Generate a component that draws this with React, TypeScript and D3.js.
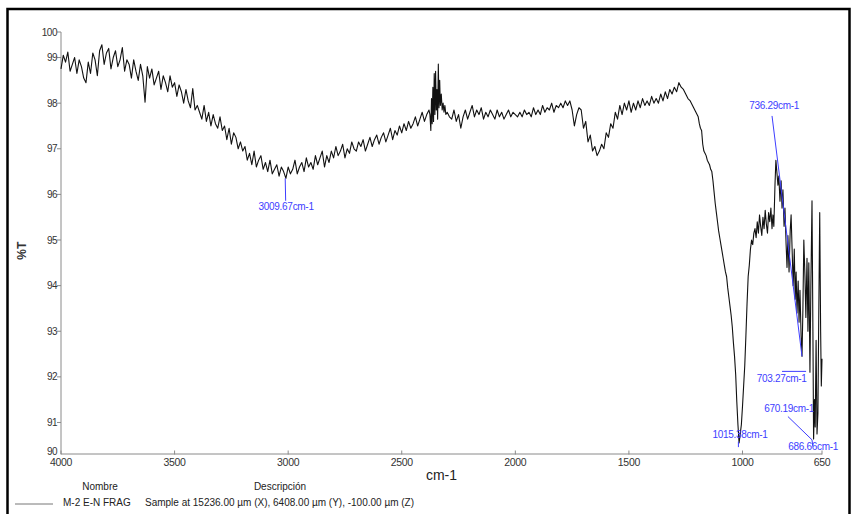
import React from "react";
import * as d3 from "d3";

// ---------- DATA ----------
const X_DOMAIN = [4000, 650];
const Y_DOMAIN = [90.32, 99.56];
const X_TICKS = [4000, 3500, 3000, 2500, 2000, 1500, 1000, 650];
const Y_TICKS = [91, 92, 93, 94, 95, 96, 97, 98, 99];
const Y_END_LABELS = ["90", "100"];
const X_LABEL = "cm-1";
const Y_LABEL = "%T";

// 4000 -> 2380 cm-1, every 10 cm-1
const SEG_A_START = 4000;
const SEG_A = [
  98.75, 99.05, 98.90, 99.12, 98.70, 98.85, 99.00, 98.65, 98.95, 98.80,
  98.55, 98.45, 98.90, 98.65, 99.10, 98.95, 98.60, 99.15, 99.28, 98.85,
  99.10, 99.20, 98.75, 99.00, 99.15, 98.80, 98.95, 99.22, 98.70, 98.95,
  98.85, 98.55, 98.95, 98.70, 98.50, 98.85, 98.60, 98.02, 98.80, 98.55,
  98.75, 98.40, 98.55, 98.70, 98.30, 98.60, 98.45, 98.25, 98.60, 98.35,
  98.45, 98.15, 98.40, 98.25, 98.00, 98.30, 98.05, 97.90, 98.32, 97.85,
  97.95, 97.80, 97.65, 97.95, 97.60, 97.80, 97.50, 97.75, 97.55, 97.45,
  97.70, 97.40, 97.50, 97.20, 97.45, 97.10, 97.35, 97.25, 97.00, 97.15,
  96.95, 97.05, 96.75, 96.90, 96.65, 96.95, 96.60, 96.75, 96.85, 96.55,
  96.70, 96.50, 96.75, 96.45, 96.55, 96.65, 96.40, 96.60, 96.50, 96.35,
  96.60, 96.45, 96.55, 96.75, 96.45, 96.60, 96.70, 96.50, 96.80, 96.60,
  96.70, 96.55, 96.85, 96.65, 96.80, 96.95, 96.60, 96.85, 96.70, 96.95,
  96.80, 97.05, 96.85, 96.95, 97.10, 96.80, 97.00, 96.90, 97.15, 97.00,
  96.95, 97.15, 97.05, 97.20, 96.95, 97.10, 97.25, 97.05, 97.20, 97.30,
  97.10, 97.25, 97.35, 97.15, 97.30, 97.45, 97.20, 97.40, 97.30, 97.50,
  97.35, 97.55, 97.40, 97.60, 97.45, 97.55, 97.70, 97.50, 97.65, 97.80,
  97.60, 97.75, 97.85,
];

// CO2 region, explicit [cm-1, %T]
const SEG_B: [number, number][] = [
  [2376, 97.75], [2372, 97.40], [2369, 98.10], [2366, 97.55], [2363, 98.35],
  [2360, 97.60], [2357, 98.65], [2354, 97.75], [2351, 98.70], [2348, 97.85],
  [2345, 98.30], [2342, 97.65], [2339, 98.86], [2336, 97.90], [2333, 98.50],
  [2330, 97.95], [2326, 98.20], [2322, 97.85], [2318, 98.00], [2314, 97.80],
  [2310, 97.95], [2306, 97.75],
];

// 2300 -> 1200 cm-1, every 10 cm-1
const SEG_C_START = 2300;
const SEG_C = [
  97.80, 97.70, 97.65, 97.85, 97.60, 97.75, 97.45, 97.70, 97.85, 97.65,
  97.80, 97.95, 97.70, 97.85, 97.75, 97.90, 97.65, 97.80, 97.70, 97.85,
  97.75, 97.65, 97.85, 97.70, 97.80, 97.65, 97.75, 97.85, 97.70, 97.80,
  97.75, 97.70, 97.80, 97.70, 97.85, 97.75, 97.80, 97.70, 97.90, 97.75,
  97.85, 97.75, 97.95, 97.80, 97.90, 97.85, 98.00, 97.80, 97.95, 97.90,
  98.00, 97.90, 98.05, 97.95, 98.05, 97.85, 97.50, 97.75, 97.90, 97.85,
  97.45, 97.60, 97.15, 97.30, 96.95, 97.05, 96.85, 96.95, 97.10, 97.00,
  97.35, 97.25, 97.55, 97.45, 97.80, 97.65, 97.95, 97.75, 98.00, 97.85,
  98.05, 97.80, 98.00, 97.85, 98.05, 97.90, 98.10, 97.95, 98.05, 97.95,
  98.15, 98.00, 98.10, 98.00, 98.20, 98.05, 98.25, 98.10, 98.30, 98.20,
  98.35, 98.25, 98.45, 98.35, 98.30, 98.20, 98.10, 98.05, 97.95, 97.85,
  97.75,
];

// 1195 -> 650 cm-1, explicit [cm-1, %T]
const SEG_D: [number, number][] = [
  [1195, 97.70], [1190, 97.55], [1185, 97.45], [1180, 97.40], [1175, 97.10],
  [1170, 96.95], [1165, 96.90], [1160, 96.85], [1155, 96.75], [1150, 96.70],
  [1145, 96.65], [1140, 96.55], [1135, 96.50], [1130, 96.30], [1125, 96.05],
  [1120, 95.80], [1115, 95.60], [1110, 95.40], [1105, 95.20], [1100, 95.05],
  [1095, 94.90], [1090, 94.75], [1085, 94.60], [1080, 94.45], [1075, 94.30],
  [1070, 94.20], [1065, 93.95], [1060, 93.75], [1055, 93.55], [1050, 93.35],
  [1045, 93.10], [1040, 92.75], [1035, 92.45], [1030, 92.05], [1025, 91.45],
  [1020, 90.95], [1015, 90.55], [1010, 90.75], [1005, 90.95], [1000, 91.35],
  [995, 91.80], [990, 92.25], [985, 92.90], [980, 93.60], [975, 94.20],
  [970, 94.45], [965, 94.80], [960, 95.00], [955, 94.90], [950, 95.15],
  [945, 95.25], [940, 95.05], [935, 95.40], [930, 95.15], [925, 95.55],
  [920, 95.30], [915, 95.10], [910, 95.50], [905, 95.25], [900, 95.65],
  [895, 95.35], [890, 95.15], [885, 95.60], [880, 95.40], [875, 95.70],
  [870, 95.25], [866, 95.55], [862, 95.30], [857, 96.20], [853, 96.75],
  [848, 96.45], [844, 96.20], [840, 96.40], [835, 95.85], [830, 96.30],
  [826, 95.70], [822, 96.10], [817, 95.30], [813, 95.70], [808, 94.90],
  [804, 94.40], [800, 95.10], [795, 94.30], [790, 95.20], [786, 95.55],
  [781, 94.70], [777, 94.00], [772, 94.80], [768, 93.70], [764, 94.30],
  [760, 93.40], [755, 94.10], [751, 93.20], [747, 93.90], [742, 92.90],
  [738, 92.45], [734, 93.50], [730, 95.00], [725, 94.20], [721, 93.30],
  [716, 94.60], [712, 93.00], [708, 94.50], [703, 92.10], [699, 94.00],
  [694, 95.86], [690, 93.00], [687, 90.64], [683, 91.50], [680, 90.90],
  [676, 92.80], [672, 90.75], [668, 91.20], [664, 93.50], [660, 95.60],
  [656, 93.00], [653, 91.80], [650, 92.40],
];

// Peak annotations (data units): label anchor + leader line
const PEAK_LABELS = ["3009.67cm-1", "736.29cm-1", "703.27cm-1", "1015.38cm-1", "670.19cm-1", "686.66cm-1"];
const PEAK_TEXT_POS: [number, number][] = [
  [3009, 95.65], [861, 97.88], [828, 91.89], [1011, 90.65], [795, 91.23], [689, 90.39],
];
const PEAK_LEADERS: [number, number][][] = [
  [[3013, 96.35], [3011, 95.86]],
  [[870, 97.72], [738, 92.45]],
  [[826, 92.12], [720, 92.12]],
  [[1018, 90.58], [1018, 90.46]],
  [[800, 91.13], [694, 90.62]],
  [[694, 90.62], [691, 90.49]],
];

const LEGEND_HEADERS = ["Nombre", "Descripción"];
const LEGEND_NAME = "M-2 E-N FRAG";
const LEGEND_DESC = "Sample at 15236.00 µm (X), 6408.00 µm (Y), -100.00 µm (Z)";

// ---------- CHART ----------
export default function App() {
  const W = 853, H = 514;
  const left = 61, right = 822, top = 32, bottom = 453.5;
  const x = d3.scaleLinear().domain(X_DOMAIN).range([left, right]);
  const y = d3.scaleLinear().domain(Y_DOMAIN).range([bottom, top]);

  const pts: [number, number][] = [];
  SEG_A.forEach((v, i) => pts.push([SEG_A_START - i * 10, v]));
  SEG_B.forEach((p) => pts.push(p));
  SEG_C.forEach((v, i) => pts.push([SEG_C_START - i * 10, v]));
  SEG_D.forEach((p) => pts.push(p));
  pts.sort((a, b) => b[0] - a[0]);

  const line = d3.line<[number, number]>().x((d) => x(d[0])).y((d) => y(d[1]));
  const font = "'Liberation Sans', Arial, sans-serif";
  const axisColor = "#8a8a8a";
  const tickText = "#333";
  const blue = "#3d3dff";

  return (
    <svg width={W} height={H} style={{ position: "absolute", left: 0, top: 0, display: "block" }} fontFamily={font}>
      <rect x={0} y={0} width={W} height={H} fill="#fff" />
      {/* frame */}
      <rect x={7.5} y={9} width={842} height={520} fill="none" stroke="#000" strokeWidth={2.5} />

      {/* axes */}
      <line x1={left} x2={left} y1={top} y2={bottom + 0.5} stroke={axisColor} strokeWidth={1} />
      <line x1={left} x2={right} y1={bottom + 0.5} y2={bottom + 0.5} stroke={axisColor} strokeWidth={1} />

      {Y_TICKS.map((t) => (
        <g key={t}>
          <line x1={left - 4} x2={left} y1={y(t)} y2={y(t)} stroke={axisColor} />
          <text x={left - 4} y={y(t) + 3.5} fontSize={10} fill={tickText} textAnchor="end" letterSpacing={-0.5}>{t}</text>
        </g>
      ))}
      <line x1={left - 4} x2={left} y1={y(Y_DOMAIN[1])} y2={y(Y_DOMAIN[1])} stroke={axisColor} />
      <text x={left - 4} y={y(Y_DOMAIN[1]) + 3.5} fontSize={10} fill={tickText} textAnchor="end" letterSpacing={-0.5}>{Y_END_LABELS[1]}</text>
      <text x={left - 4} y={y(Y_DOMAIN[0]) + 1} fontSize={10} fill={tickText} textAnchor="end" letterSpacing={-0.5}>{Y_END_LABELS[0]}</text>

      {X_TICKS.map((t) => (
        <g key={t}>
          <line x1={x(t)} x2={x(t)} y1={bottom - 3} y2={bottom + 1} stroke={axisColor} />
          <text x={x(t)} y={bottom + 12} fontSize={10.5} fill={tickText} textAnchor="middle" letterSpacing={-0.3}>{t}</text>
        </g>
      ))}

      <text x={(left + right) / 2} y={480} fontSize={14} fill="#222" textAnchor="middle">{X_LABEL}</text>
      <text transform={`translate(26,${(top + bottom) / 2 + 8}) rotate(-90)`} fontSize={12} fontWeight="bold" fill="#333" textAnchor="middle">{Y_LABEL}</text>

      {/* spectrum */}
      <path d={line(pts) || ""} fill="none" stroke="#111" strokeWidth={1.1} strokeLinejoin="round" />

      {/* peak annotations */}
      {PEAK_LEADERS.map((seg, i) => (
        <line key={"l" + i} x1={x(seg[0][0])} y1={y(seg[0][1])} x2={x(seg[1][0])} y2={y(seg[1][1])} stroke={blue} strokeWidth={1} />
      ))}
      {PEAK_LABELS.map((lab, i) => (
        <text key={"t" + i} x={x(PEAK_TEXT_POS[i][0])} y={y(PEAK_TEXT_POS[i][1])} fontSize={10} fill={blue} textAnchor="middle" letterSpacing={-0.3}>{lab}</text>
      ))}

      {/* legend */}
      <text x={100} y={490} fontSize={10} fill="#222" textAnchor="middle">{LEGEND_HEADERS[0]}</text>
      <text x={280} y={490} fontSize={10} fill="#222" textAnchor="middle">{LEGEND_HEADERS[1]}</text>
      <line x1={15} x2={53} y1={504} y2={504} stroke="#777" strokeWidth={1} />
      <text x={63} y={506} fontSize={10} fill="#222">{LEGEND_NAME}</text>
      <text x={145} y={506} fontSize={10} fill="#222">{LEGEND_DESC}</text>
    </svg>
  );
}
